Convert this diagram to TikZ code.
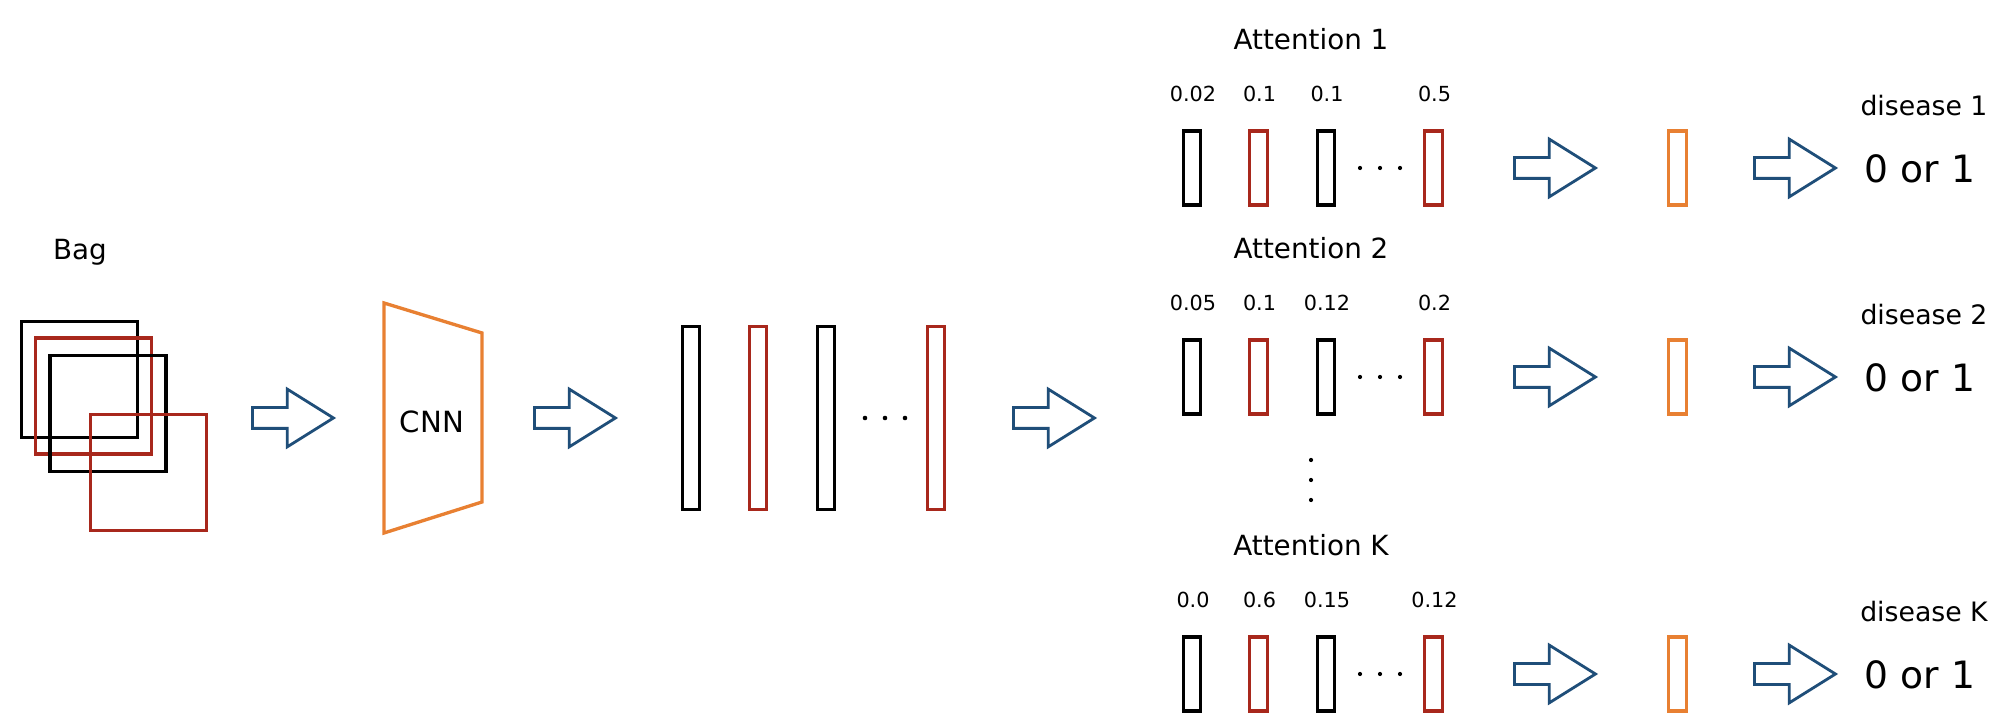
\documentclass[tikz,border=0pt]{standalone}
\usepackage{fontspec}
\setmainfont{DejaVu Sans}
\usetikzlibrary{shapes.arrows}
\definecolor{vecred}{RGB}{168,40,28}
\definecolor{cnnorange}{RGB}{232,128,50}
\definecolor{flowblue}{RGB}{31,78,121}
\tikzset{
  patch/.style = {draw, line width=0.95pt, minimum size=1.16cm, inner sep=0},
  inst/.style = {draw, line width=0.95pt, minimum width=0.17cm, minimum height=1.83cm, inner sep=0},
  wvec/.style = {draw, line width=0.9pt, minimum width=0.175cm, minimum height=0.74cm, inner sep=0},
  flow/.style = {single arrow, draw=flowblue, fill=white, line width=0.8pt, inner sep=0, inner ysep=0.09cm,
    minimum height=0.81cm, minimum width=0.55cm, single arrow head extend=0.185cm,
    single arrow tip angle=64, anchor=tail},
  lbl/.style = {anchor=base, inner sep=0},
  midlbl/.style = {lbl, font=\fontsize{7.9}{9}\selectfont},
  numlbl/.style = {lbl, font=\fontsize{5.9}{7}\selectfont},
  outlbl/.style = {lbl, font=\fontsize{10.7}{12}\selectfont},
}
\begin{document}
\begin{tikzpicture}[x=0.01cm, y=-0.01cm]
\useasboundingbox (0,0) rectangle (1999,728);
\node[midlbl] (bag) at (80,260) {Bag};
\foreach \cx/\cy/\col [count=\i] in {79.5/379.5/black, 93.5/396/vecred, 108/413.5/black, 148.5/472.5/vecred}
  \node[patch, draw=\col] (patch\i) at (\cx,\cy) {};
\draw[cnnorange, line width=0.95pt] (384,303) -- (482,333) -- (482,502) -- (384,533) -- cycle;
\node[midlbl, font=\fontsize{8.3}{10}\selectfont] (cnn) at (432,433) {CNN};
\foreach \x/\col [count=\i] in {691/black, 758/vecred, 826/black, 936/vecred}
  \node[inst, draw=\col] (inst\i) at (\x,418) {};
\foreach \x in {865,885,905} \fill (\x,418) circle[radius=0.65pt];
\foreach \x [count=\i] in {251,533,1012} \node[flow] (flow\i) at (\x,418) {};
\foreach \rw/\yc/\lab/\wtA/\wtB/\wtC/\wtD in {1/168/1/0.02/0.1/0.1/0.5, 2/377/2/0.05/0.1/0.12/0.2, 3/674/K/0.0/0.6/0.15/0.12} {
  \node[midlbl] (att\rw) at (1311,\yc-118) {Attention \lab};
  \foreach \x/\col/\wt [count=\i] in {1192/black/\wtA, 1258.5/vecred/\wtB, 1326/black/\wtC, 1433.5/vecred/\wtD} {
    \node[wvec, draw=\col] (w\rw\i) at (\x,\yc) {};
    \node[numlbl] (n\rw\i) at (\x+1,\yc-66) {\wt};
  }
  \foreach \x in {1360,1380,1400} \fill (\x,\yc) circle[radius=0.6pt];
  \node[flow] (pool\rw) at (1513,\yc) {};
  \node[wvec, draw=cnnorange] (z\rw) at (1677.5,\yc) {};
  \node[flow] (cls\rw) at (1753,\yc) {};
  \node[midlbl, font=\fontsize{7.6}{9}\selectfont] (dis\rw) at (1924,\yc-52) {disease \lab};
  \node[outlbl] (y\rw) at (1920,\yc+15) {0 or 1};
}
\foreach \y in {460,480,500} \fill (1311,\y) circle[radius=0.6pt];
\end{tikzpicture}
\end{document}
